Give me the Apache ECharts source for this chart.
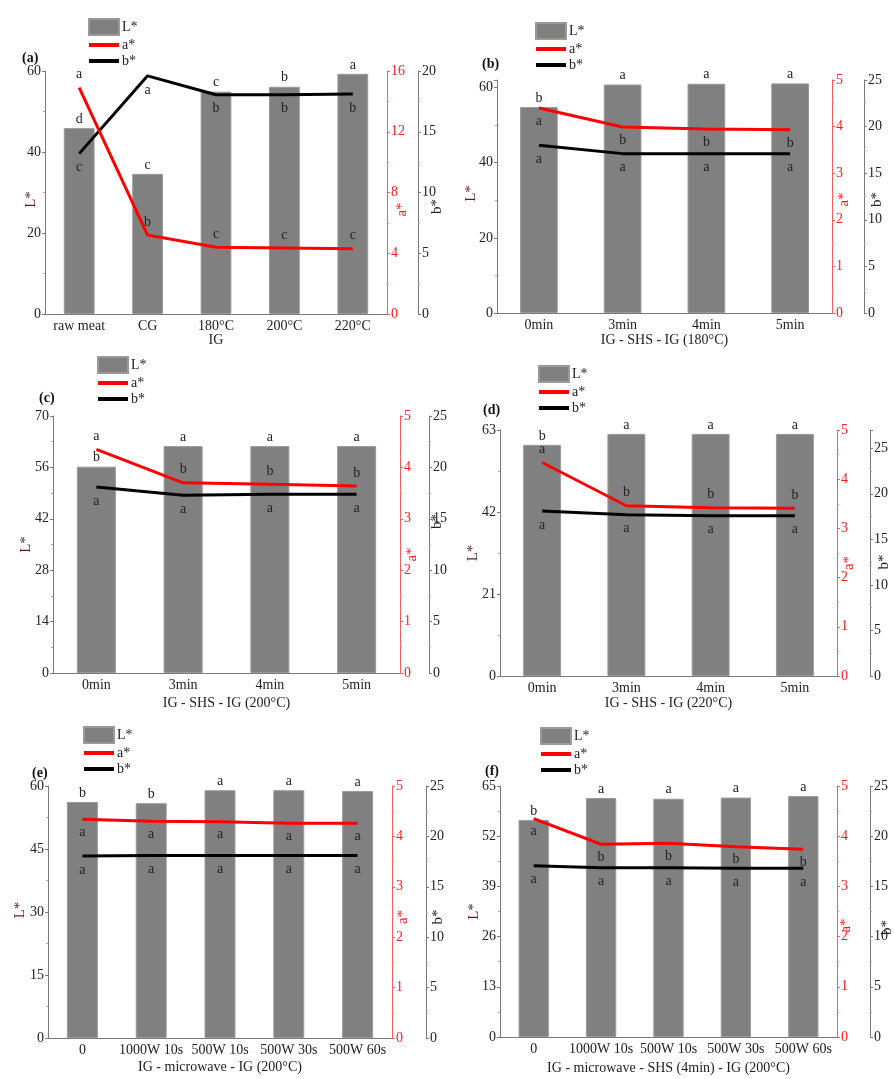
<!DOCTYPE html>
<html>
<head>
<meta charset="utf-8">
<script src="https://cdn.jsdelivr.net/npm/echarts@6/dist/echarts.min.js"></script>
<style>
html, body { margin: 0; padding: 0; background: #ffffff; }
#chart { width: 894px; height: 1079px; }
</style>
</head>
<body>
<div id="chart"></div>
<script>
// ---- (a) infrared grilling only ----
const catsA = ['raw meat', 'CG', '180°C', '200°C', '220°C'];
const lA = [45.9, 34.6, 54.9, 56.1, 59.3];
const aA = [14.9, 5.2, 4.4, 4.35, 4.3];
const bA = [13.2, 19.6, 18.05, 18.05, 18.1];
const lLetA = ['d', 'c', 'c', 'b', 'a'];
const aLetA = ['a', 'b', 'c', 'c', 'c'];
const bLetA = ['c', 'a', 'b', 'b', 'b'];

// ---- (b) IG - SHS - IG (180°C) ----
const catsB = ['0min', '3min', '4min', '5min'];
const lB = [54.8, 60.8, 61.0, 61.1];
const aB = [4.40, 3.99, 3.95, 3.93];
const bB = [18.0, 17.1, 17.1, 17.1];
const lLetB = ['b', 'a', 'a', 'a'];
const aLetB = ['a', 'b', 'b', 'b'];
const bLetB = ['a', 'a', 'a', 'a'];

// ---- (c) IG - SHS - IG (200°C) ----
const catsC = ['0min', '3min', '4min', '5min'];
const lC = [56.2, 61.8, 61.8, 61.8];
const aC = [4.35, 3.70, 3.67, 3.64];
const bC = [18.1, 17.3, 17.4, 17.4];
const lLetC = ['b', 'a', 'a', 'a'];
const aLetC = ['a', 'b', 'b', 'b'];
const bLetC = ['a', 'a', 'a', 'a'];

// ---- (d) IG - SHS - IG (220°C) ----
const catsD = ['0min', '3min', '4min', '5min'];
const lD = [59.2, 62.0, 62.0, 62.0];
const aD = [4.34, 3.46, 3.42, 3.41];
const bD = [18.1, 17.7, 17.6, 17.6];
const lLetD = ['b', 'a', 'a', 'a'];
const aLetD = ['a', 'b', 'b', 'b'];
const bLetD = ['a', 'a', 'a', 'a'];

// ---- (e) IG - microwave - IG (200°C) ----
const catsE = ['0', '1000W 10s', '500W 10s', '500W 30s', '500W 60s'];
const lE = [56.2, 55.9, 59.0, 59.0, 58.8];
const aE = [4.34, 4.30, 4.29, 4.26, 4.26];
const bE = [18.05, 18.1, 18.1, 18.1, 18.1];
const lLetE = ['b', 'b', 'a', 'a', 'a'];
const aLetE = ['a', 'a', 'a', 'a', 'a'];
const bLetE = ['a', 'a', 'a', 'a', 'a'];

// ---- (f) IG - microwave - SHS (4min) - IG (200°C) ----
const catsF = ['0', '1000W 10s', '500W 10s', '500W 30s', '500W 60s'];
const lF = [56.2, 61.9, 61.7, 62.0, 62.4];
const aF = [4.35, 3.84, 3.86, 3.79, 3.74];
const bF = [17.05, 16.85, 16.85, 16.8, 16.8];
const lLetF = ['b', 'a', 'a', 'a', 'a'];
const aLetF = ['a', 'b', 'b', 'b', 'b'];
const bLetF = ['a', 'a', 'a', 'a', 'a'];

// axis ranges (max, step) for L*, a*, b*
const lAxes = [[60, 20], [62, 20], [70, 14], [63, 21], [60, 15], [65, 13]];
const aAxes = [[16, 4], [5, 1], [5, 1], [5, 1], [5, 1], [5, 1]];
const bAxes = [[20, 5], [25, 5], [25, 5], [27, 5], [25, 5], [25, 5]];

const panelTags = ['(a)', '(b)', '(c)', '(d)', '(e)', '(f)'];
const xNames = ['IG', 'IG - SHS - IG (180°C)', 'IG - SHS - IG (200°C)', 'IG - SHS - IG (220°C)',
  'IG - microwave - IG (200°C)', 'IG - microwave - SHS (4min) - IG (200°C)'];

const panels = [
  { cats: catsA, l: lA, a: aA, b: bA, lLet: lLetA, aLet: aLetA, bLet: bLetA },
  { cats: catsB, l: lB, a: aB, b: bB, lLet: lLetB, aLet: aLetB, bLet: bLetB },
  { cats: catsC, l: lC, a: aC, b: bC, lLet: lLetC, aLet: aLetC, bLet: bLetC },
  { cats: catsD, l: lD, a: aD, b: bD, lLet: lLetD, aLet: aLetD, bLet: bLetD },
  { cats: catsE, l: lE, a: aE, b: bE, lLet: lLetE, aLet: aLetE, bLet: bLetE },
  { cats: catsF, l: lF, a: aF, b: bF, lLet: lLetF, aLet: aLetF, bLet: bLetF }
];

// page layout of each panel; *Shift moves an axis title down (+) or up (-) along its axis
const layout = [
  { left: 45,  top: 71,  width: 342, height: 243, bOff: 31, xGap: 19, lGap: 6,  aGap: 8, bGap: 12, lShift: 7,  aShift: 17, bShift: 14,  aPos: 'top',    legend: [88, 18],  tag: [22, 51] },
  { left: 497, top: 80,  width: 335, height: 233, bOff: 32, xGap: 20, lGap: 18, aGap: 5, bGap: 6,  lShift: -3, aShift: 3,  bShift: 3,   aPos: 'bottom', legend: [535, 22], tag: [482, 57] },
  { left: 53,  top: 416, width: 347, height: 257, bOff: 29, xGap: 23, lGap: 19, aGap: 5, bGap: 1,  lShift: 0,  aShift: 10, bShift: -23, aPos: 'top',    legend: [97, 356], tag: [39, 391] },
  { left: 500, top: 430, width: 337, height: 246, bOff: 33, xGap: 20, lGap: 19, aGap: 5, bGap: 7,  lShift: 0,  aShift: 10, bShift: 9,   aPos: 'top',    legend: [538, 365], tag: [483, 403] },
  { left: 48,  top: 786, width: 344, height: 252, bOff: 34, xGap: 22, lGap: 20, aGap: 4, bGap: 5,  lShift: -2, aShift: 5,  bShift: 5,   aPos: 'bottom', legend: [83, 726], tag: [32, 766] },
  { left: 500, top: 786, width: 337, height: 251, bOff: 33, xGap: 24, lGap: 18, aGap: 2, bGap: 10, lShift: 0,  aShift: 14, bShift: 16,  aPos: 'bottom', legend: [540, 727], tag: [485, 764] }
];

const FONT = 'Liberation Serif';
const RED = '#ff1a1a';
const AXIS = '#7a7a7a';
const LINE_ICON = 'path://M0,0H30V4H0Z';

function stepFormatter(step) {
  return function (v) { return Math.abs(v / step - Math.round(v / step)) < 1e-6 ? String(v) : ''; };
}

// rotated axis titles: right padding pushes the text down, left padding pushes it up
function shiftPad(s) {
  return s >= 0 ? [0, 2 * s, 0, 0] : [0, 0, 0, -2 * s];
}

const option = {
  backgroundColor: '#ffffff',
  animation: false,
  textStyle: { fontFamily: FONT },
  title: [], legend: [], grid: [], xAxis: [], yAxis: [], series: []
};

panels.forEach(function (p, i) {
  const L = layout[i];
  option.grid.push({ left: L.left, top: L.top, width: L.width, height: L.height, outerBoundsMode: 'none', containLabel: false });
  option.title.push({
    text: panelTags[i], left: L.tag[0], top: L.tag[1], padding: 0,
    textStyle: { fontFamily: FONT, fontSize: 14, fontWeight: 'bold', color: '#111' }
  });
  option.legend.push({
    orient: 'vertical', left: L.legend[0], top: L.legend[1], padding: 0,
    itemWidth: 30, itemHeight: 16, itemGap: 2, selectedMode: false,
    textStyle: { fontFamily: FONT, fontSize: 14, color: '#222', padding: [0, 0, 0, -2] },
    data: [
      { name: 'L*', icon: 'rect', itemStyle: { color: '#808080' } },
      { name: 'a*', icon: LINE_ICON, itemStyle: { color: '#ff0000' } },
      { name: 'b*', icon: LINE_ICON, itemStyle: { color: '#000000' } }
    ]
  });
  option.xAxis.push({
    type: 'category', gridIndex: i, data: p.cats,
    name: xNames[i], nameLocation: 'middle', nameGap: L.xGap, nameMoveOverlap: false,
    nameTextStyle: { fontFamily: FONT, fontSize: 14, color: '#222' },
    axisLine: { lineStyle: { color: AXIS, width: 1 } },
    axisTick: { length: 3, lineStyle: { color: AXIS } },
    axisLabel: { fontFamily: FONT, fontSize: 14, color: '#222', margin: 5, interval: 0 }
  });
  const lr = lAxes[i], ar = aAxes[i], br = bAxes[i];
  option.yAxis.push({
    type: 'value', gridIndex: i, position: 'left', min: 0, max: lr[0], interval: lr[1],
    name: 'L*', nameLocation: 'middle', nameGap: L.lGap, nameMoveOverlap: false,
    nameTextStyle: { fontFamily: FONT, fontSize: 15, color: '#5c1c1c', padding: shiftPad(L.lShift) },
    splitLine: { show: false },
    axisLine: { show: true, lineStyle: { color: AXIS } },
    axisTick: { show: true, length: 3, lineStyle: { color: AXIS } },
    minorTick: { show: true, splitNumber: 2, length: 2, lineStyle: { color: '#aaa' } },
    axisLabel: { fontFamily: FONT, fontSize: 14, color: '#222', margin: 4, formatter: stepFormatter(lr[1]) }
  });
  option.yAxis.push({
    type: 'value', gridIndex: i, position: 'right', offset: 0, min: 0, max: ar[0], interval: ar[1],
    name: 'a*', nameLocation: 'middle', nameGap: L.aGap, nameMoveOverlap: false,
    nameTextStyle: { fontFamily: FONT, fontSize: 15, color: RED, padding: shiftPad(L.aShift) },
    splitLine: { show: false },
    axisLine: { show: true, lineStyle: { color: '#ff5a5a' } },
    axisTick: { show: true, length: 3, lineStyle: { color: '#ff5a5a' } },
    minorTick: { show: true, splitNumber: 2, length: 2, lineStyle: { color: '#ff8080' } },
    axisLabel: { fontFamily: FONT, fontSize: 14, color: RED, margin: 4, formatter: stepFormatter(ar[1]) }
  });
  option.yAxis.push({
    type: 'value', gridIndex: i, position: 'right', offset: L.bOff, min: 0, max: br[0], interval: br[1],
    name: 'b*', nameLocation: 'middle', nameGap: L.bGap, nameMoveOverlap: false,
    nameTextStyle: { fontFamily: FONT, fontSize: 15, color: '#222', padding: shiftPad(L.bShift) },
    splitLine: { show: false },
    axisLine: { show: true, lineStyle: { color: AXIS } },
    axisTick: { show: true, length: 3, lineStyle: { color: AXIS } },
    minorTick: { show: true, splitNumber: 2, length: 2, lineStyle: { color: '#aaa' } },
    axisLabel: { fontFamily: FONT, fontSize: 14, color: '#222', margin: 4, formatter: stepFormatter(br[1]) }
  });

  const letterLabel = function (letters, pos, dist) {
    return {
      show: true, position: pos, distance: dist, fontFamily: FONT, fontSize: 14, color: '#222',
      formatter: function (q) { return letters[q.dataIndex]; }
    };
  };

  option.series.push({
    type: 'bar', name: 'L*', xAxisIndex: i, yAxisIndex: 3 * i, data: p.l,
    barWidth: '45%', itemStyle: { color: '#808080', borderColor: '#9a9a9a', borderWidth: 1 },
    label: letterLabel(p.lLet, 'top', 2), z: 2
  });
  option.series.push({
    type: 'line', name: 'a*', xAxisIndex: i, yAxisIndex: 3 * i + 1, data: p.a,
    symbol: 'circle', symbolSize: 0, color: '#ff0000',
    lineStyle: { color: '#ff0000', width: 3 }, itemStyle: { color: '#ff0000' },
    label: letterLabel(p.aLet, L.aPos, 6), z: 4
  });
  option.series.push({
    type: 'line', name: 'b*', xAxisIndex: i, yAxisIndex: 3 * i + 2, data: p.b,
    symbol: 'circle', symbolSize: 0, color: '#000000',
    lineStyle: { color: '#000000', width: 3 }, itemStyle: { color: '#000000' },
    label: letterLabel(p.bLet, 'bottom', 7), z: 3
  });
});

const chart = echarts.init(document.getElementById('chart'), null, { renderer: 'canvas' });
chart.setOption(option);
</script>
</body>
</html>
